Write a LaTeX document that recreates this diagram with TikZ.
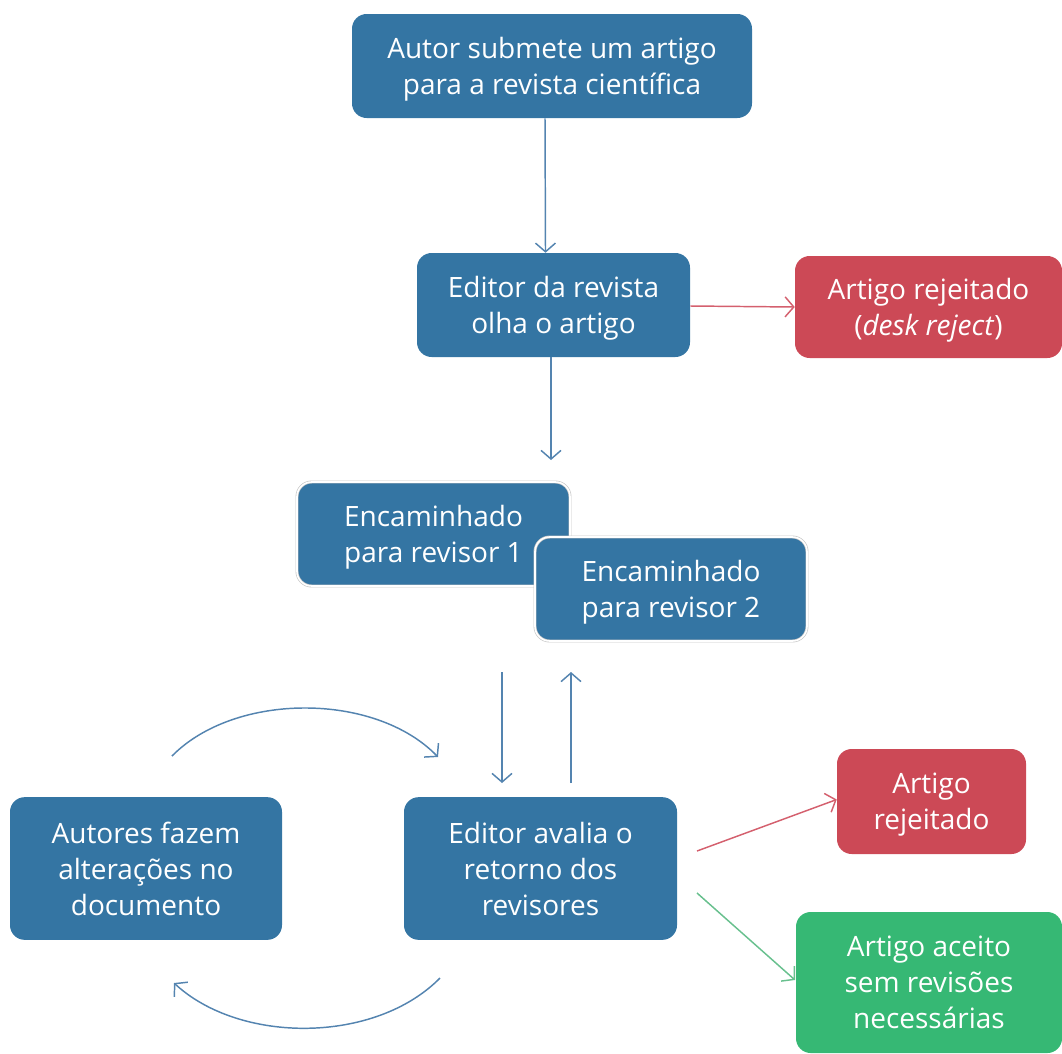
\documentclass[tikz,border=0pt]{standalone}
\usepackage{fontspec}
\setmainfont{Open Sans}
\usetikzlibrary{arrows.meta,calc}
\definecolor{boxblue}{RGB}{52,117,163}
\definecolor{boxred}{RGB}{204,73,86}
\definecolor{boxgreen}{RGB}{54,184,116}
\definecolor{lnblue}{RGB}{84,132,176}
\definecolor{lnred}{RGB}{212,96,110}
\definecolor{lngreen}{RGB}{104,192,142}
\begin{document}
\begin{tikzpicture}[x=0.75pt,y=-0.75pt,
  box/.style={rounded corners=11pt, text=white, align=center, inner sep=0pt,
    text depth=0pt, font=\fontsize{21}{27}\selectfont},
  bbox/.style={box, fill=boxblue},
  rbox/.style={box, fill=boxred},
  gbox/.style={box, fill=boxgreen},
  revbox/.style={bbox, draw=black!22, double=white, double distance=1.2pt, line width=0.5pt},
  conn/.style={line width=1.1pt, -{Straight Barb[length=6.5pt,width=15pt,line width=1.1pt]}},
]
\useasboundingbox (0,0) rectangle (1062,1053);
\node[bbox, minimum width=300pt, minimum height=78pt] (top) at (552,66) {Autor submete um artigo\\para a revista científica};
\node[bbox, minimum width=204.75pt, minimum height=78pt] (ed) at (553.5,305) {Editor da revista\\olha o artigo};
\node[rbox, minimum width=200.25pt, minimum height=76.5pt] (desk) at (928.5,307) {Artigo rejeitado\\(\textit{desk reject})};
\node[revbox, minimum width=204.75pt, minimum height=78pt] (r1) at (433.5,534) {Encaminhado\\para revisor 1};
\node[revbox, minimum width=204pt, minimum height=78pt] (r2) at (671,589) {Encaminhado\\para revisor 2};
\node[bbox, minimum width=204pt, minimum height=107pt] (aut) at (146,868.5) {Autores fazem\\alterações no\\documento};
\node[bbox, minimum width=204.75pt, minimum height=107pt] (eva) at (540.5,868.5) {Editor avalia o\\retorno dos\\revisores};
\node[rbox, minimum width=141.75pt, minimum height=78.75pt] (rej) at (931.5,801.5) {Artigo\\rejeitado};
\node[gbox, minimum width=199.5pt, minimum height=105.75pt] (acc) at (929,982.5) {Artigo aceito\\sem revisões\\necessárias};

\coordinate (edout) at (551,460);
\coordinate (dA) at (502,672);
\coordinate (dB) at (502,783);
\coordinate (uA) at (571,783);
\coordinate (uB) at (571,672);
\coordinate (rs) at (697,851);
\coordinate (gs) at (697,893);
\coordinate (ge) at (795,980);
\coordinate (c1s) at (172,756);
\coordinate (c1e) at (438,757);
\coordinate (c2s) at (440,978);
\coordinate (c2e) at (174,983);

\draw[conn, lnblue] ($(top.south)+(-7,0)$) -- ($(ed.north)+(-8,0)$);
\draw[conn, lnblue] ($(ed.south)+(-2.5,0)$) -- (edout);
\draw[conn, lnred] (ed.east) ++(0,1) -- ($(desk.west)+(0,-0)$);
\draw[conn, lnblue] (dA) -- (dB);
\draw[conn, lnblue] (uA) -- (uB);
\draw[conn, lnred] (rs) -- ($(rej.west)+(0,-2)$);
\draw[conn, lngreen] (gs) -- (ge);
\draw[conn, lnblue] (c1s) .. controls (235,692) and (375,692) .. (c1e);
\draw[conn, lnblue] (c2s) .. controls (375,1044) and (240,1044) .. (c2e);
\end{tikzpicture}
\end{document}
